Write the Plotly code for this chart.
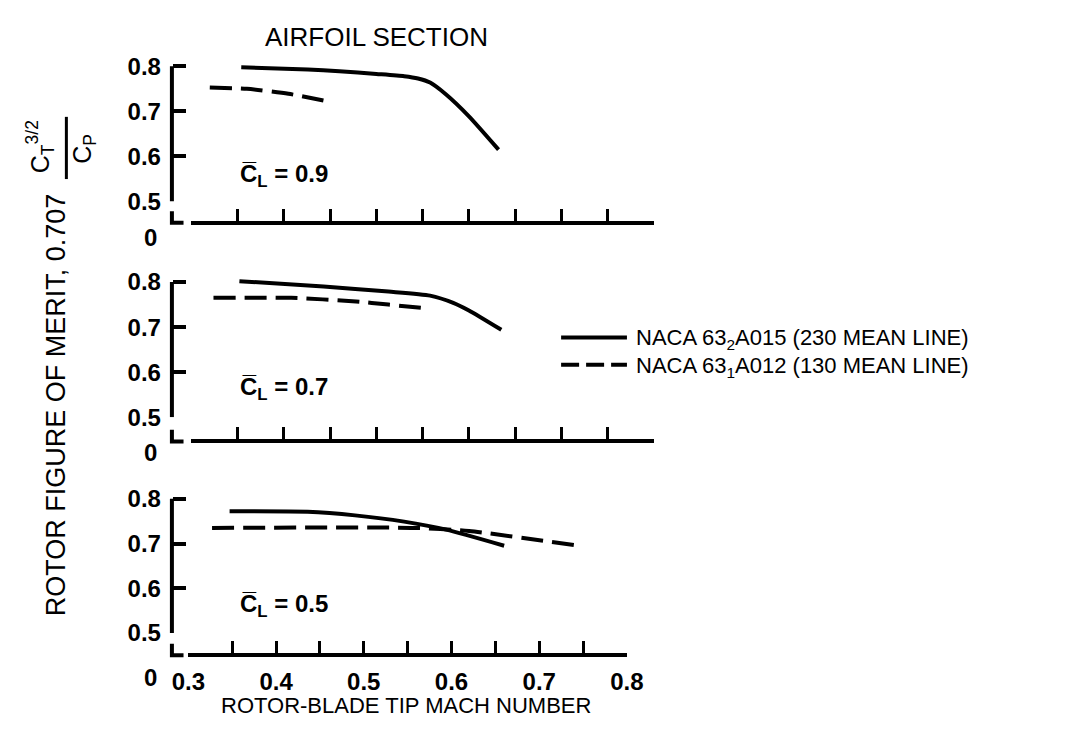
import plotly.graph_objects as go

W, H = 1068, 748

# ---------------- data ----------------
mach_ticks = [0.3, 0.4, 0.5, 0.6, 0.7, 0.8]
mach_tick_labels = ["0.3", "0.4", "0.5", "0.6", "0.7", "0.8"]
mach_minor = [0.35, 0.45, 0.55, 0.65, 0.75]
fm_ticks = [0.5, 0.6, 0.7, 0.8]
fm_tick_labels = ["0.5", "0.6", "0.7", "0.8"]

cl_values = ["0.9", "0.7", "0.5"]
series_names = ["NACA 63<sub>2</sub>A015 (230 MEAN LINE)",
                "NACA 63<sub>1</sub>A012 (130 MEAN LINE)"]

# CL = 0.9
cl09_solid_mach = [0.354, 0.426, 0.46, 0.50, 0.53, 0.545, 0.558, 0.575, 0.60, 0.632]
cl09_solid_fm = [0.798, 0.793, 0.789, 0.783, 0.778, 0.773, 0.764, 0.738, 0.689, 0.615]
cl09_dash_mach = [0.32, 0.36, 0.405, 0.45]
cl09_dash_fm = [0.753, 0.750, 0.739, 0.721]

# CL = 0.7
cl07_solid_mach = [0.352, 0.443, 0.513, 0.558, 0.583, 0.60, 0.635]
cl07_solid_fm = [0.802, 0.790, 0.779, 0.770, 0.754, 0.737, 0.694]
cl07_dash_mach = [0.324, 0.408, 0.478, 0.513, 0.548]
cl07_dash_fm = [0.765, 0.765, 0.757, 0.750, 0.743]

# CL = 0.5
cl05_solid_mach = [0.347, 0.436, 0.49, 0.546, 0.594, 0.660]
cl05_solid_fm = [0.772, 0.771, 0.763, 0.749, 0.731, 0.695]
cl05_dash_mach = [0.327, 0.557, 0.62, 0.745]
cl05_dash_fm = [0.735, 0.735, 0.728, 0.695]

panel_data = [
    (cl09_solid_mach, cl09_solid_fm, cl09_dash_mach, cl09_dash_fm),
    (cl07_solid_mach, cl07_solid_fm, cl07_dash_mach, cl07_dash_fm),
    (cl05_solid_mach, cl05_solid_fm, cl05_dash_mach, cl05_dash_fm),
]

# ---------------- layout geometry (pixels) ----------------
panels = [
    dict(y08=60, y05=199, axis_y=221, x03=180, x08=658, zero_y=236, cl_y=172),
    dict(y08=282, y05=421, axis_y=446, x03=180, x08=658, zero_y=457, cl_y=392),
    dict(y08=505, y05=643, axis_y=666, x03=177, x08=630, zero_y=689, cl_y=615),
]
YAX_X = 160
FONT = "Liberation Sans, Arial, sans-serif"
SOLID_DASH = "solid"
DASHED = "22px,9px"
LEGEND_DASHED = "18px,7px"


def px(x):
    return x / W


def py(y):
    return 1 - y / H


fig = go.Figure()
shapes = []
annotations = []

for i, (p, d) in enumerate(zip(panels, panel_data)):
    n = "" if i == 0 else str(i + 1)
    xa, ya = "x" + n, "y" + n
    sm, sf, dm, df = d
    fig.add_trace(go.Scatter(
        x=sm, y=sf, mode="lines", xaxis=xa, yaxis=ya,
        line=dict(color="black", width=4, dash=SOLID_DASH, shape="spline", smoothing=0.6),
        name=series_names[0], legendgroup="a", showlegend=False))
    fig.add_trace(go.Scatter(
        x=dm, y=df, mode="lines", xaxis=xa, yaxis=ya,
        line=dict(color="black", width=4, dash=DASHED, shape="spline", smoothing=0.6),
        name=series_names[1], legendgroup="b", showlegend=False))

    scale = (p["y05"] - p["y08"]) / 0.3
    top_px = p["y08"] - 0.012 * scale
    fig.layout["xaxis" + n] = dict(
        domain=[px(p["x03"]), px(p["x08"])], range=[0.3, 0.8],
        anchor="free", position=py(p["axis_y"]),
        showline=True, linewidth=4, linecolor="black",
        ticks="inside", ticklen=12, tickwidth=3, tickcolor="black",
        tickvals=mach_ticks, ticktext=mach_tick_labels,
        minor=dict(ticks="inside", ticklen=12, tickwidth=3, tickcolor="black",
                   tickvals=mach_minor),
        showticklabels=(i == 2), ticklabelstandoff=4,
        tickfont=dict(family=FONT, size=24, color="black", weight="bold"),
        showgrid=False, zeroline=False, fixedrange=True)
    fig.layout["yaxis" + n] = dict(
        domain=[py(p["y05"]), py(top_px)], range=[0.5, 0.812],
        anchor="free", position=px(YAX_X),
        showline=False,
        ticks="inside", ticklen=13, tickwidth=4, tickcolor="black",
        tickvals=fm_ticks, ticktext=fm_tick_labels,
        ticklabelstandoff=11,
        tickfont=dict(family=FONT, size=24, color="black", weight="bold"),
        showgrid=False, zeroline=False, fixedrange=True)

    # y axis line from 0.5 to 0.8
    shapes.append(dict(type="line", xref="paper", yref=ya,
                       x0=px(YAX_X), x1=px(YAX_X), y0=0.5, y1=0.8,
                       line=dict(color="black", width=4)))
    # broken-axis corner
    ay = p["axis_y"]
    shapes.append(dict(type="path", xref="paper", yref="paper",
                       path=f"M {px(YAX_X)},{py(ay - 12)} L {px(YAX_X)},{py(ay)} L {px(YAX_X + 12)},{py(ay)}",
                       line=dict(color="black", width=4)))
    annotations.append(dict(text="0", xref="paper", yref="paper",
                            x=px(146), y=py(p["zero_y"]), xanchor="right", yanchor="middle",
                            showarrow=False, borderpad=0,
                            font=dict(family=FONT, size=24, color="black", weight="bold")))
    annotations.append(dict(text="C\u0305<sub>L</sub> = " + cl_values[i],
                            xref="paper", yref="paper",
                            x=px(228), y=py(p["cl_y"]), xanchor="left", yanchor="middle",
                            showarrow=False,
                            font=dict(family=FONT, size=24, color="black", weight="bold")))

# legend (drawn as key lines + labels)
legend_rows = [341, 369]
for name, dash, ly in zip(series_names, [SOLID_DASH, LEGEND_DASHED], legend_rows):
    shapes.append(dict(type="line", xref="paper", yref="paper",
                       x0=px(562), x1=px(630), y0=py(ly - 2), y1=py(ly - 2),
                       line=dict(color="black", width=4, dash=dash)))
    annotations.append(dict(text=name, xref="paper", yref="paper",
                            x=px(638), y=py(ly), xanchor="left", yanchor="middle",
                            showarrow=False, borderpad=0,
                            font=dict(family=FONT, size=22, color="black")))

annotations += [
    dict(text="AIRFOIL SECTION", xref="paper", yref="paper", x=px(371), y=py(30),
         xanchor="center", yanchor="middle", showarrow=False,
         font=dict(family=FONT, size=26, color="black")),
    dict(text="ROTOR-BLADE TIP MACH NUMBER", xref="paper", yref="paper", x=px(402), y=py(718),
         xanchor="center", yanchor="middle", showarrow=False,
         font=dict(family=FONT, size=22, color="black")),
    dict(text="ROTOR FIGURE OF MERIT, 0.707", xref="paper", yref="paper", x=px(40), y=py(408),
         xanchor="center", yanchor="middle", showarrow=False, textangle=-90,
         font=dict(family=FONT, size=27, color="black")),
    dict(text="C<sub>T</sub><sup>3/2</sup>", xref="paper", yref="paper", x=px(24), y=py(143),
         xanchor="center", yanchor="middle", showarrow=False, textangle=-90,
         font=dict(family=FONT, size=25, color="black")),
    dict(text="C<sub>P</sub>", xref="paper", yref="paper", x=px(69), y=py(145),
         xanchor="center", yanchor="middle", showarrow=False, textangle=-90,
         font=dict(family=FONT, size=25, color="black")),
]
shapes.append(dict(type="line", xref="paper", yref="paper",
                   x0=px(51), x1=px(51), y0=py(112), y1=py(176),
                   line=dict(color="black", width=3)))

fig.update_layout(
    width=W, height=H, margin=dict(l=0, r=0, t=0, b=0),
    paper_bgcolor="white", plot_bgcolor="white",
    shapes=shapes, annotations=annotations,
    showlegend=False,
)

fig.write_html("out.html")
